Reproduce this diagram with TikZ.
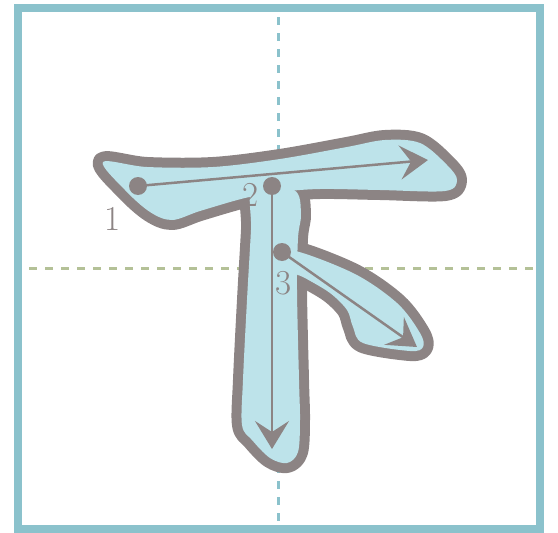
\documentclass[tikz,border=0pt]{standalone}
\usepackage{tikz}
\usetikzlibrary{arrows.meta}
\definecolor{frameblue}{HTML}{8BC2CC}
\definecolor{gridgreen}{HTML}{B4C197}
\definecolor{strokegray}{HTML}{8C8484}
\definecolor{fillblue}{HTML}{BDE3EA}
\newcommand{\hengpath}{plot[smooth cycle,tension=0.55] coordinates {(103,162) (147,167) (213,167) (280,159) (347,147) (385,140) (420,143) (447,165) (457,180) (445,191) (380,190) (320,189) (280,192) (245,198) (200,211) (172,220) (150,212) (125,190)}}
\newcommand{\shupath}{plot[smooth cycle,tension=0.55] coordinates {(253,188) (294,190) (301,213) (298,238) (297,290) (299,380) (300,420) (298,452) (287,463) (270,458) (252,440) (242,425) (243,380) (247,300) (251,230)}}
\newcommand{\dianpath}{plot[smooth cycle,tension=0.55] coordinates {(290,250) (353,273) (397,303) (420,333) (423,347) (410,351) (363,343) (353,327) (347,310) (330,293) (305,278) (290,270)}}

\begin{document}
\begin{tikzpicture}[x=1pt,y=-1pt,
  outline/.style={draw=strokegray,line width=20pt,line join=round},
  inside/.style={fill=fillblue},
  guide/.style={line width=3pt,dash pattern=on 8pt off 8pt},
  dot/.style={circle,fill=strokegray,inner sep=0pt,minimum size=18pt},
  num/.style={text=strokegray,font=\fontsize{35}{35}\selectfont,inner sep=0pt},
  order/.style={strokegray,line width=2.5pt,-{Stealth[length=28pt,width=34pt,inset=11pt]}}]
\useasboundingbox (0,0) rectangle (558,533);
\draw[guide,frameblue] (278.75,17) -- (278.75,525);
\draw[guide,gridgreen] (29,268.5) -- (535,268.5);
\draw[frameblue,line width=8pt] (18,8) rectangle (539.5,529);
\draw[outline] \hengpath;
\draw[outline] \shupath;
\draw[outline] \dianpath;
\fill[inside] \hengpath;
\fill[inside] \shupath;
\fill[inside] \dianpath;
\node[dot] (d1) at (138,186) {};
\node[dot] (d2) at (272,186) {};
\node[dot] (d3) at (282,252) {};
\coordinate (e1) at (428,160);
\coordinate (e2) at (272,449);
\coordinate (e3) at (417,347);
\draw[order] (d1.center) -- (e1);
\draw[order] (d2.center) -- (e2);
\draw[order] (d3.center) -- (e3);
\node[num] (n1) at (113,219) {1};
\node[num] (n2) at (251,195) {2};
\node[num] (n3) at (284,283) {3};
\end{tikzpicture}
\end{document}
